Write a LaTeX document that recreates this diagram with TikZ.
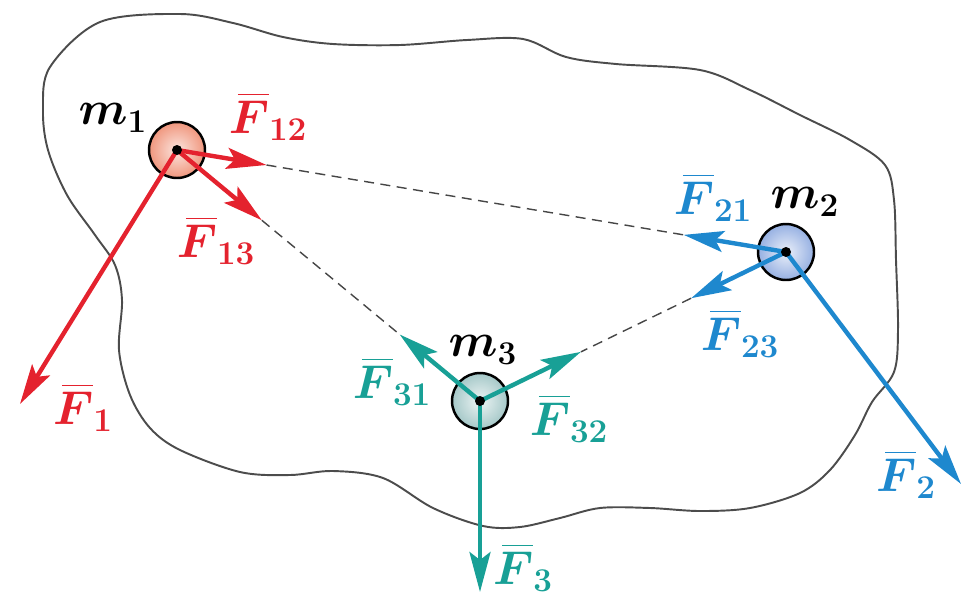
\documentclass[tikz,border=0pt]{standalone}
\usepackage{fix-cm}
\usepackage{amsmath}
\usepackage{tikz}
\usetikzlibrary{arrows.meta, calc}

\definecolor{fred}{RGB}{228,34,46}
\definecolor{fblue}{RGB}{30,136,206}
\definecolor{fteal}{RGB}{24,160,150}
\definecolor{mblue}{RGB}{150,176,226}
\definecolor{mred}{RGB}{240,150,125}
\definecolor{mteal}{RGB}{165,200,200}

% vector with a short bar over the letter
\newcommand{\fvec}[1]{\mkern3mu\overline{\mkern-3mu#1}}

\begin{document}
\begin{tikzpicture}[
  x=0.02cm, y=-0.02cm,
  mass/.style={circle, draw=black, line width=1.4pt, minimum size=1.12cm, inner sep=0pt},
  arr/.style={-{Stealth[length=0.8cm, width=0.42cm, inset=0.16cm]}, line width=2.5pt},
  link/.style={draw=gray!55!black, dash pattern=on 0.2cm off 0.13cm, line width=0.8pt},
  body/.style={draw=gray!60!black, line width=1.1pt},
  lbl/.style={font=\fontsize{27}{32}\selectfont\boldmath, inner sep=0pt}
]
\useasboundingbox (0,0) rectangle (966,596);

% outline of the body
\draw[body] plot[smooth cycle, tension=0.55] coordinates {
  (50,67) (100,22) (180,14) (233,23) (283,37) (333,44) (400,45) (467,40)
  (523,39) (566,57) (616,64) (700,70) (750,90) (800,115) (850,140) (885,165)
  (894,200) (896,260) (898,330) (894,372) (872,402) (855,435) (830,470)
  (800,493) (750,508) (700,511) (650,508) (600,508) (560,518) (520,527)
  (483,526) (433,508) (383,478) (333,471) (290,475) (240,472) (180,450)
  (150,428) (130,395) (119,350) (122,300) (115,265) (95,235) (67,195)
  (48,150) (43,110)};

% the three masses
\node[mass, inner color=mred!25,  outer color=mred]  (m1) at (177,150) {};
\node[mass, inner color=mblue!20, outer color=mblue] (m2) at (786,252) {};
\node[mass, inner color=mteal!20, outer color=mteal] (m3) at (480,401) {};

% tips of the internal forces
\coordinate (t12) at ($(m1)!0.147!(m2)$);
\coordinate (t21) at ($(m2)!0.168!(m1)$);
\coordinate (t13) at ($(m1)!0.28!(m3)$);
\coordinate (t31) at ($(m3)!0.265!(m1)$);
\coordinate (t23) at ($(m2)!0.31!(m3)$);
\coordinate (t32) at ($(m3)!0.33!(m2)$);
% tips of the external forces
\coordinate (t1) at (20,404);
\coordinate (t2) at (961,484);
\coordinate (t3) at (480,592);

\draw[link] (t12) -- (t21);
\draw[link] (t13) -- (t31);
\draw[link] (t23) -- (t32);

\draw[arr, fred]  (m1.center) -- (t12);
\draw[arr, fred]  (m1.center) -- (t13);
\draw[arr, fred]  (m1.center) -- (t1);
\draw[arr, fblue] (m2.center) -- (t21);
\draw[arr, fblue] (m2.center) -- (t23);
\draw[arr, fblue] (m2.center) -- (t2);
\draw[arr, fteal] (m3.center) -- (t31);
\draw[arr, fteal] (m3.center) -- (t32);
\draw[arr, fteal] (m3.center) -- (t3);

\fill (m1) circle (0.1cm);
\fill (m2) circle (0.1cm);
\fill (m3) circle (0.1cm);

% labels
\node[lbl] (lm1) at (113,118) {$m_1$};
\node[lbl] (lm2) at (805,202) {$m_2$};
\node[lbl] (lm3) at (483,350) {$m_3$};
\node[lbl, text=fred]  (lf12) at (268,116) {$\fvec{F}_{12}$};
\node[lbl, text=fred]  (lf13) at (216,240) {$\fvec{F}_{13}$};
\node[lbl, text=fred]  (lf1)  at (83,407)  {$\fvec{F}_1$};
\node[lbl, text=fblue] (lf21) at (713,197) {$\fvec{F}_{21}$};
\node[lbl, text=fblue] (lf23) at (740,333) {$\fvec{F}_{23}$};
\node[lbl, text=fblue] (lf2)  at (906,474) {$\fvec{F}_2$};
\node[lbl, text=fteal] (lf31) at (392,381) {$\fvec{F}_{31}$};
\node[lbl, text=fteal] (lf32) at (569,418) {$\fvec{F}_{32}$};
\node[lbl, text=fteal] (lf3)  at (523,567) {$\fvec{F}_3$};
\end{tikzpicture}
\end{document}
